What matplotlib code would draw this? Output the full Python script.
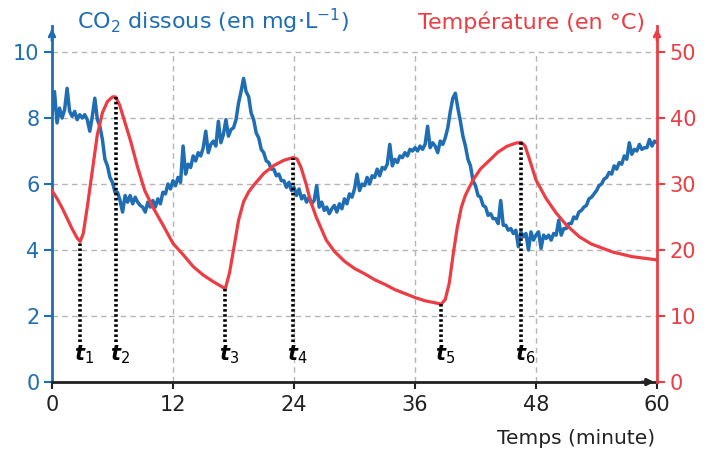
import numpy as np
import matplotlib.pyplot as plt

plt.rcParams['font.family'] = 'DejaVu Sans'
plt.rcParams['mathtext.fontset'] = 'dejavusans'

blue = '#1f6db3'
red = '#ec3d44'
grey = '#222222'

# ── DATA ────────────────────────────────────────────────────────────────────────
# dissolved CO2 (mg/L), one reading every 0.25 min from 0 to 60 min
co2 = [
    8.10, 8.80, 7.85, 8.30,  8.00, 8.25, 8.90, 8.20,  8.05, 8.20, 7.95, 8.10,
    8.00, 8.10, 7.95, 7.60,  8.05, 8.60, 7.95, 7.75,  7.35, 6.75, 6.55, 6.20,
    6.05, 5.75, 5.75, 5.50,  5.15, 5.65, 5.45, 5.65,  5.40, 5.60, 5.45, 5.35,
    5.30, 5.15, 5.45, 5.30,  5.50, 5.30, 5.55, 5.40,  5.75, 5.70, 6.00, 5.85,
    6.10, 5.95, 6.20, 6.05,  7.15, 6.30, 6.60, 6.50,  6.85, 6.70, 6.95, 6.85,
    7.10, 7.60, 6.95, 7.20,  7.30, 7.15, 7.90, 7.25,  7.50, 7.95, 7.45, 7.65,
    7.70, 7.95, 8.45, 8.80,  9.20, 8.80, 8.65, 8.15,  7.95, 7.55, 7.40, 7.05,
    6.95, 6.70, 6.65, 6.45,  6.45, 6.25, 6.30, 6.10,  6.10, 5.90, 6.05, 5.80,
    5.90, 5.65, 5.85, 5.55,  5.65, 5.45, 5.60, 5.40,  5.50, 5.95, 5.30, 5.45,
    5.20, 5.30, 5.10, 5.25,  5.35, 5.15, 5.40, 5.25,  5.55, 5.40, 5.70, 5.60,
    5.85, 6.30, 5.80, 6.00,  5.95, 6.20, 6.00, 6.25,  6.20, 6.45, 6.25, 6.50,
    6.45, 6.60, 7.20, 6.55,  6.75, 6.65, 6.85, 6.80,  6.95, 6.85, 7.05, 7.00,
    7.10, 7.00, 7.15, 7.05,  7.20, 7.75, 7.10, 7.25,  7.15, 6.95, 7.30, 7.20,
    7.40, 7.70, 8.20, 8.60,  8.75, 8.30, 7.90, 7.45,  7.15, 6.75, 6.55, 6.10,
    5.95, 5.65, 5.60, 5.35,  5.30, 5.05, 5.10, 4.95,  4.95, 4.80, 5.50, 4.75,
    4.75, 4.60, 4.65, 4.50,  4.60, 4.10, 4.55, 4.40,  4.50, 4.00, 4.55, 4.30,
    4.45, 4.55, 4.05, 4.45,  4.35, 4.45, 4.30, 4.50,  4.45, 4.90, 4.45, 4.65,
    4.65, 4.80, 4.80, 5.00,  4.95, 5.15, 5.20, 5.30,  5.35, 5.55, 5.60, 5.70,
    5.80, 5.95, 6.00, 6.15,  6.20, 6.35, 6.30, 6.55,  6.45, 6.65, 6.60, 6.85,
    6.75, 7.25, 6.90, 7.05,  7.00, 7.20, 7.05, 7.10,  7.10, 7.35, 7.15, 7.30,
    7.25,
]
t_co2 = np.arange(len(co2)) * 0.25

# temperature (°C)
t_temp = [0, 0.5, 1.0, 1.5, 2.0, 2.5, 2.8, 3.1, 3.5, 4.0, 4.5, 5.0, 5.5, 6.0,
          6.3, 6.7, 7.2, 7.8, 8.5, 9.2, 10.0, 11.0, 12.0, 13.0, 14.0, 15.0,
          16.0, 17.0, 17.2, 17.6, 18.0, 18.5, 19.0, 19.5, 20.0, 21.0, 22.0,
          23.0, 23.9, 24.3, 24.7, 25.2, 25.6, 26.2, 27.2, 28.0, 29.0, 30.0,
          31.0, 32.0, 33.0, 34.0, 35.0, 36.0, 37.0, 38.0, 38.6, 39.0, 39.4,
          39.8, 40.2, 40.6, 41.0, 41.75, 42.5, 43.4, 44.2, 45.1, 46.0, 46.55,
          46.9, 47.3, 48.0, 49.0, 50.0, 51.0, 52.3, 53.5, 55.6, 57.5, 60.0]
temp = [29.0, 27.8, 26.4, 24.8, 23.2, 21.8, 21.3, 22.5, 26.5, 32.0, 37.5,
        40.8, 42.5, 43.2, 43.2, 42.0, 39.5, 36.5, 32.5, 29.0, 26.5, 23.8,
        21.0, 19.3, 17.5, 16.2, 15.2, 14.3, 14.2, 16.5, 20.0, 24.5, 27.3,
        28.8, 29.8, 31.6, 32.8, 33.6, 34.0, 33.8, 32.5, 30.0, 27.6, 25.0,
        21.5, 19.8, 18.3, 17.2, 16.4, 15.5, 14.8, 14.0, 13.4, 12.8, 12.3,
        12.0, 11.8, 12.5, 15.0, 19.5, 23.5, 26.5, 28.3, 30.6, 32.3, 33.6,
        34.8, 35.7, 36.2, 36.3, 35.8, 34.0, 30.6, 27.8, 25.6, 23.8, 22.0,
        20.9, 19.7, 19.0, 18.5]

# instants t1..t6
mark_names = ['1', '2', '3', '4', '5', '6']
mark_t = [2.8, 6.3, 17.2, 23.9, 38.6, 46.55]
mark_T = [21.3, 43.2, 14.2, 34.0, 11.8, 36.3]

x_ticks = [0, 12, 24, 36, 48, 60]
co2_ticks = [0, 2, 4, 6, 8, 10]
temp_ticks = [0, 10, 20, 30, 40, 50]

# ── PLOT ────────────────────────────────────────────────────────────────────────
fig = plt.figure(figsize=(7.28, 4.53), dpi=100)
ax = fig.add_axes([0.0714, 0.1567, 0.8311, 0.7868])
ax2 = ax.twinx()

ax.set_xlim(0, 60)
ax.set_ylim(0, 10.8)
ax2.set_ylim(0, 54)

# grid
for v in co2_ticks[1:]:
    ax.axhline(v, color='#b5b5b5', ls=(0, (4, 3)), lw=1, zorder=0)
ax.vlines(x_ticks[1:-1], 0, 10, color='#b5b5b5', ls=(0, (4, 3)), lw=1, zorder=0)

ax.plot(t_co2, co2, color=blue, lw=2.5, zorder=2)
ax2.plot(t_temp, temp, color=red, lw=2.3, zorder=3)

ax2.vlines(mark_t, 6, mark_T, color='black', ls=(0, (0.7, 0.7)), lw=2.6, zorder=4)
for name, t in zip(mark_names, mark_t):
    ax2.annotate(r'$\mathbfit{t}_{' + name + '}$', (t, 4.1), xytext=(3, 0),
                 textcoords='offset points', ha='center', va='center',
                 fontsize=15, color='black')

# spines
for s in ['top', 'right']:
    ax.spines[s].set_visible(False)
for s in ['top', 'left', 'bottom']:
    ax2.spines[s].set_visible(False)
ax.spines['left'].set_color(blue)
ax.spines['left'].set_linewidth(2)
ax.spines['bottom'].set_color(grey)
ax.spines['bottom'].set_linewidth(2)
ax2.spines['right'].set_color(red)
ax2.spines['right'].set_linewidth(2)

ax.annotate('', xy=(0, 1.0), xycoords='axes fraction', xytext=(0, 0.95),
            arrowprops=dict(arrowstyle='->', color=blue, lw=2))
ax2.annotate('', xy=(1, 1.0), xycoords='axes fraction', xytext=(1, 0.95),
             arrowprops=dict(arrowstyle='->', color=red, lw=2))
ax.annotate('', xy=(1.0, 0), xycoords='axes fraction', xytext=(0.97, 0),
            arrowprops=dict(arrowstyle='-|>', color=grey, lw=2))

ax.set_xticks(x_ticks)
ax.set_yticks(co2_ticks)
ax2.set_yticks(temp_ticks)
ax.tick_params(axis='x', colors=grey, labelcolor=grey, labelsize=15,
               length=5, width=1.5, pad=4)
ax.tick_params(axis='y', colors=blue, labelsize=15, length=6, width=1.5, pad=3)
ax2.tick_params(axis='y', colors=red, labelsize=15, length=6, width=1.5, pad=3)

fig.text(0.106, 0.953, r'CO$_2$ dissous (en mg$\cdot$L$^{-1}$)', color=blue,
         fontsize=16, ha='left', va='center')
fig.text(0.886, 0.951, 'Température (en °C)', color=red, fontsize=16,
         ha='right', va='center')
fig.text(0.9, 0.033, 'Temps (minute)', color=grey, fontsize=14.5,
         ha='right', va='center')

fig.savefig('out.png', dpi=100)
